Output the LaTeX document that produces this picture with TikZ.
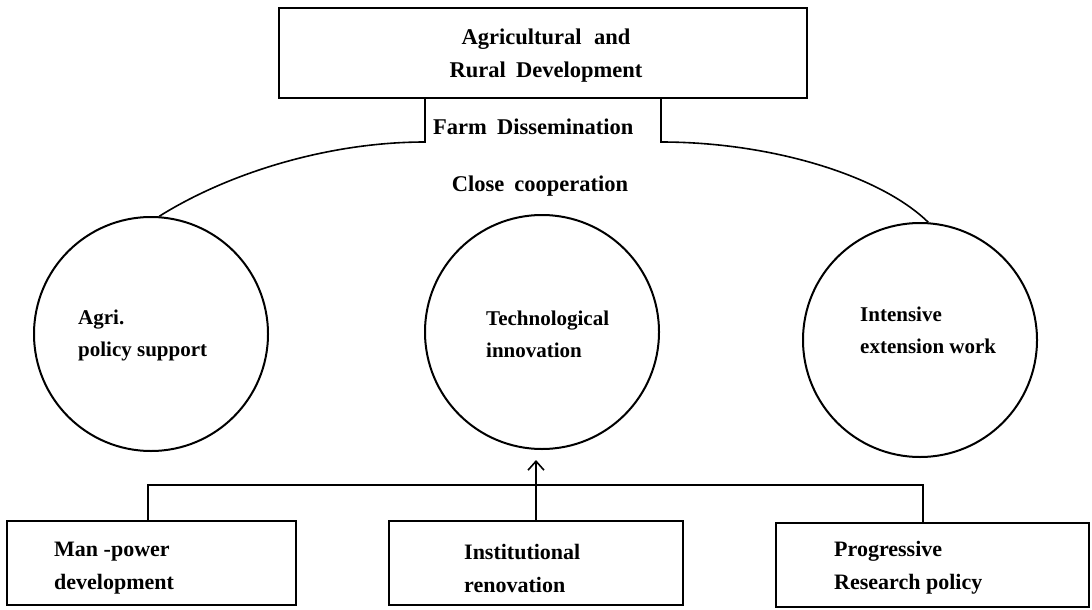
\documentclass[tikz,border=0pt]{standalone}
\usepackage{fontspec}
\setmainfont{Liberation Serif}
\usetikzlibrary{arrows.meta}
\begin{document}
\begin{tikzpicture}[x=1pt,y=-1pt,
  box/.style={draw, line width=1.8pt, inner sep=0pt},
  circ/.style={draw, circle, line width=2pt, minimum size=234pt, inner sep=0pt},
  ttop/.style={font=\fontsize{22.5}{33}\selectfont\bfseries, align=center, inner sep=0pt},
  tcir/.style={font=\fontsize{21}{32}\selectfont\bfseries, align=left, inner sep=0pt, anchor=west},
  tbox/.style={font=\fontsize{22}{33}\selectfont\bfseries, align=left, inner sep=0pt, anchor=west},
  conn/.style={line width=1.6pt},
  arr/.style={conn, -{Straight Barb[length=9pt,width=16pt,line width=1.6pt]}}
]
\fill[white] (0,0) rectangle (1092,610);
\useasboundingbox (0,0) rectangle (1092,610);

% top box
\node[box, minimum width=528pt, minimum height=90pt] (top) at (543,53) {};
\node[ttop] (toptxt) at (546,56) {Agricultural\hspace{0.3em} and\\Rural\hspace{0.2em} Development};
\coordinate (fl) at (425,142);
\coordinate (fr) at (661,142);
\node[ttop, anchor=west] (farm) at (433,127) {Farm\hspace{0.2em} Dissemination};
\node[ttop] (close) at (540,186) {Close\hspace{0.2em} cooperation};

% circles
\node[circ] (lc) at (151,334) {};
\node[circ] (mc) at (542,332) {};
\node[circ] (rc) at (920,340) {};
\node[tcir] (lct) at (78,335) {Agri.\\policy support};
\node[tcir] (mct) at (486,334) {Technological\\innovation};
\node[tcir] (rct) at (860,330) {Intensive\\extension work};

% curves
\draw[conn] (top.south -| fl) -- (fl) .. controls (330,142) and (230,172) .. (lc.86);
\draw[conn] (top.south -| fr) -- (fr) .. controls (770,142) and (880,175) .. (rc.86);

% bottom boxes
\node[box, minimum width=289pt, minimum height=84pt] (lb) at (151.5,563) {};
\node[box, minimum width=294pt, minimum height=84pt] (mb) at (536,563) {};
\node[box, minimum width=313pt, minimum height=84pt] (rb) at (932.5,565) {};
\node[tbox] (lbt) at (54,568) {Man -power\\development};
\node[tbox] (mbt) at (464,568) {Institutional\\renovation};
\node[tbox] (rbt) at (834,568) {Progressive\\Research policy};

% bottom connectors
\coordinate (hl) at (148,485);
\coordinate (hr) at (923,485);
\draw[conn] (lb.north -| hl) -- (hl) -- (hr) -- (rb.north -| hr);
\draw[arr] (mb.north) -- ([yshift=-10pt]mb.north |- mc.south);
\end{tikzpicture}
\end{document}
